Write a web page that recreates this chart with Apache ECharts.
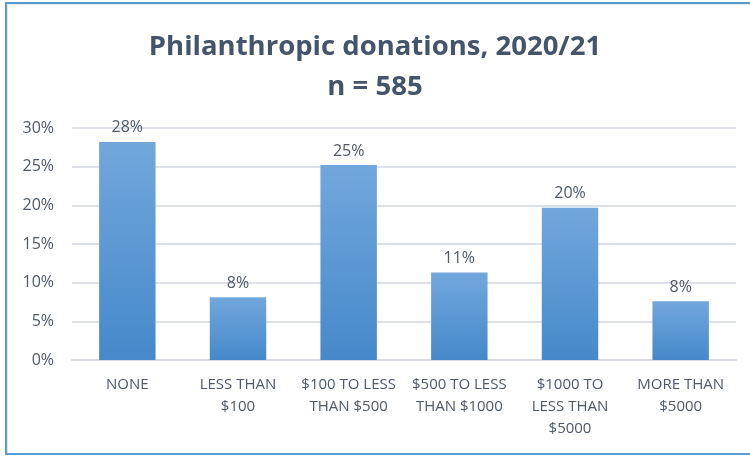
<!DOCTYPE html>
<html>
<head>
<meta charset="utf-8">
<script src="https://cdn.jsdelivr.net/npm/echarts@6/dist/echarts.min.js"></script>
<style>
  html, body { margin: 0; padding: 0; background: #fff; }
  #frame {
    position: absolute; left: 5px; top: 2px; width: 800px; height: 449px;
    border: 2px solid #5B9BD5; border-right: none;
    box-shadow: inset 1px 1px 0 #e4e8ee;
  }
  #barChart { position: absolute; left: 0; top: 0; width: 750px; height: 456px; }
</style>
</head>
<body>
<div id="frame"></div>
<div id="barChart"></div>
<script>
// 数据
const categories = [
  'NONE',
  'LESS THAN\n$100',
  '$100 TO LESS\nTHAN $500',
  '$500 TO LESS\nTHAN $1000',
  '$1000 TO\nLESS THAN\n$5000',
  'MORE THAN\n$5000'
]
const shares = [28.2, 8.1, 25.2, 11.3, 19.7, 7.6]
const yTicks = [0, 5, 10, 15, 20, 25, 30]

const textColor = '#4d5869'
const fontFamily = '"Open Sans", "Noto Sans", sans-serif'

let chart = echarts.init(document.getElementById('barChart'))

let option = {
  title: {
    text: 'Philanthropic donations, 2020/21\nn = 585',
    left: 'center',
    top: 22,
    textStyle: {
      color: '#44546A',
      fontSize: 27.5,
      fontWeight: 'bold',
      fontFamily: fontFamily,
      lineHeight: 40
    }
  },
  grid: {
    left: 72,
    right: 14,
    top: 128,
    bottom: 96
  },
  xAxis: {
    type: 'category',
    data: categories,
    axisLine: { lineStyle: { color: '#d9dde3', width: 2 } },
    axisTick: { show: false },
    axisLabel: {
      interval: 0,
      color: textColor,
      fontSize: 15,
      fontFamily: fontFamily,
      lineHeight: 22,
      margin: 14
    }
  },
  yAxis: {
    type: 'value',
    min: yTicks[0],
    max: yTicks[yTicks.length - 1],
    interval: 5,
    axisLine: { show: false },
    axisTick: { show: false },
    splitLine: { lineStyle: { color: '#dde1e7', width: 2 } },
    axisLabel: {
      color: textColor,
      fontSize: 16,
      fontFamily: fontFamily,
      margin: 18,
      formatter: v => v + '%'
    }
  },
  series: [
    {
      type: 'bar',
      data: shares,
      barWidth: '51%',
      itemStyle: {
        color: new echarts.graphic.LinearGradient(0, 0, 0, 1, [
          { offset: 0, color: '#72a7dc' },
          { offset: 1, color: '#4589ca' }
        ])
      },
      label: {
        show: true,
        position: 'top',
        distance: 6,
        color: textColor,
        fontSize: 16,
        fontFamily: fontFamily,
        formatter: p => Math.round(p.value) + '%'
      }
    }
  ]
}

chart.setOption(option)
</script>
</body>
</html>
